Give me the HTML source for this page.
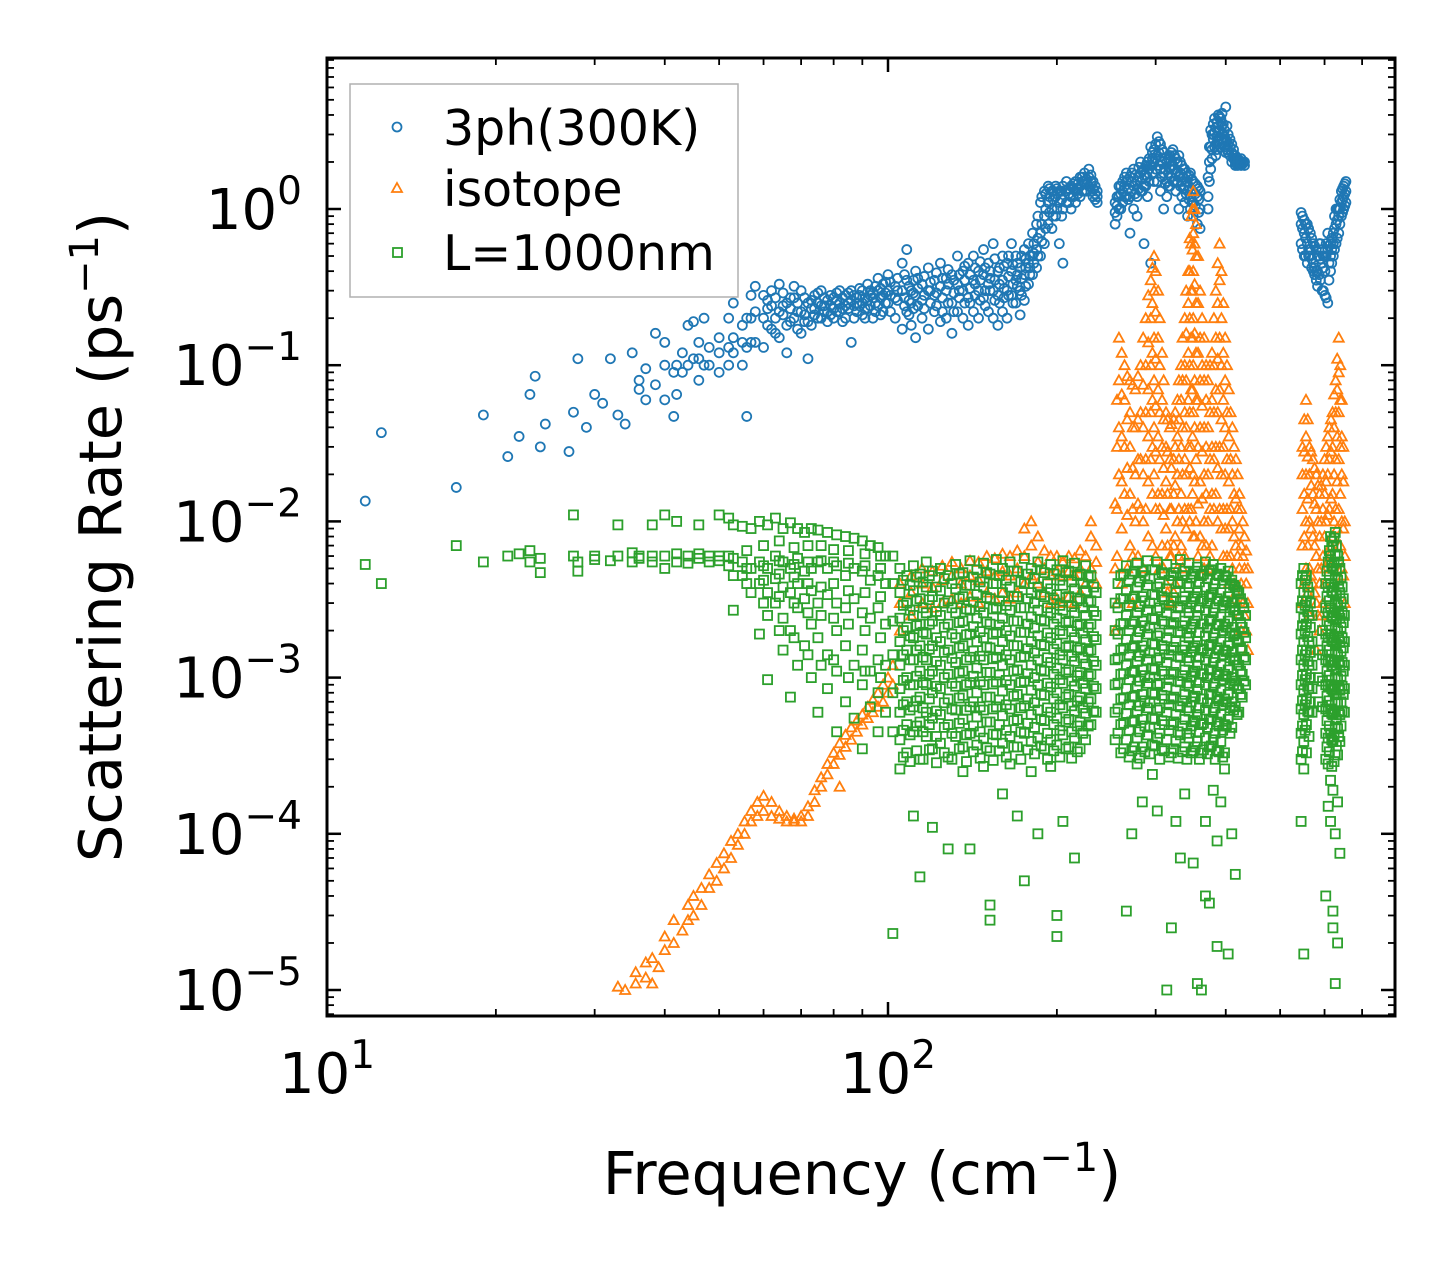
<!DOCTYPE html>
<html><head><meta charset="utf-8"><style>
html,body{margin:0;padding:0;background:#fff;}
svg{display:block;font-family:"DejaVu Sans","Liberation Sans",sans-serif;}
</style></head><body>
<svg id="chart" width="1455" height="1265" viewBox="0 0 1455 1265" xmlns="http://www.w3.org/2000/svg">
<g id="marks"></g>
<g id="axes"></g>
<text x="862" y="1194" font-size="59" text-anchor="middle">Frequency (cm<tspan dy="-23" font-size="40">−1</tspan><tspan dy="23">)</tspan></text>
<text transform="translate(121,537) rotate(-90)" font-size="59" text-anchor="middle">Scattering Rate (ps<tspan dy="-23" font-size="40">−1</tspan><tspan dy="23">)</tspan></text>
<g>
<rect x="350" y="84" width="388" height="213" fill="#fff" stroke="#b0b0b0" stroke-width="1.5"/>
<g><circle cx="397" cy="127" r="4.5" fill="none" stroke="#1f77b4" stroke-width="1.8"/><text x="443" y="145" font-size="49">3ph(300K)</text></g>
<g><polygon points="397,183 402,192 392,192" fill="none" stroke="#ff7f0e" stroke-width="1.8"/><text x="443" y="206" font-size="49">isotope</text></g>
<g><rect x="393" y="248" width="9" height="9" fill="none" stroke="#2ca02c" stroke-width="1.8"/><text x="443" y="270" font-size="49">L=1000nm</text></g>
</g>
</svg>
<script>
// rows: [frequency, rate1, rate2, ...]
const threePh = [
[11.7,0.0135],[12.5,0.037],[17,0.0165],[19,0.048],[21,0.026],[22,0.035],[23,0.065],[23.5,0.085],[24,0.03],[24.5,0.042],[27,0.028],[27.5,0.05],[28,0.11],[29,0.04],[30,0.065],[31,0.057],[32,0.11],[33,0.048],[34,0.042],[35,0.12],[36,0.07,0.08],[37,0.095,0.06],[38.5,0.16,0.075],[40,0.14,0.06,0.1],[41.5,0.047,0.09],[42,0.1,0.065],[43,0.09,0.12],[44,0.18,0.1],[45,0.19,0.11],[46,0.11,0.08,0.14],[47,0.2,0.1],[48,0.1,0.13],[50,0.12,0.15,0.09],[52,0.13,0.2,0.1],[53,0.15,0.12,0.25],[55,0.1,0.18,0.14],[56,0.047,0.2,0.13],[57,0.2,0.14,0.28],[58,0.14,0.22,0.32],
[60,0.2,0.28,0.13],[62,0.24,0.17,0.3],[64,0.22,0.15,0.33],[66,0.25,0.18,0.12],[68,0.27,0.2,0.32],[70,0.22,0.3,0.16],[72,0.25,0.19,0.11],[74,0.28,0.21,0.23],[76,0.24,0.3,0.2],[78,0.26,0.22,0.19],[80,0.27,0.23,0.2],[82,0.25,0.3,0.22],[84,0.28,0.2,0.24],[86,0.26,0.3,0.14],[88,0.27,0.22,0.25],[90,0.3,0.21,0.25],[92,0.26,0.33,0.23],[94,0.29,0.2,0.27],[96,0.3,0.24,0.36],[98,0.28,0.22,0.33],[100,0.3,0.25,0.38],[103,0.32,0.2,0.27],[106,0.3,0.45,0.17],[108,0.35,0.22,0.55],[110,0.3,0.18,0.25],[112,0.28,0.15,0.4],[115,0.33,0.2,0.26],[118,0.3,0.42,0.17],[121,0.35,0.22,0.28],[124,0.32,0.45,0.19],[127,0.3,0.2,0.36],[130,0.38,0.25,0.16],[133,0.33,0.5,0.22],[136,0.3,0.4,0.2],[139,0.45,0.27,0.18],[142,0.35,0.5,0.22],[145,0.3,0.4,0.2],[148,0.38,0.27,0.55],[151,0.33,0.22,0.45],[154,0.3,0.6,0.2],[157,0.4,0.28,0.18],[160,0.35,0.5,0.22],[163,0.3,0.45,0.2],[166,0.4,0.28,0.6],[169,0.35,0.25,0.5],[172,0.42,0.3,0.21],[175,0.38,0.55,0.26],[178,0.45,0.33,0.6],[181,0.5,0.38,0.7],[184,0.55,0.42,0.8],[187,0.7,0.5,1.1],[190,0.9,0.6,1.3],[193,1.1,0.8,1.4],[196,1.0,1.3,0.75],[199,1.2,0.9,1.4],[202,1.1,0.6,1.3],[205,1.0,0.45,1.4],[208,1.3,1.1,1.5],[212,1.2,1.4,1.0],[216,1.3,1.5,1.1],[220,1.4,1.2,1.6],[224,1.3,1.5,1.7],[228,1.4,1.6,1.8],[232,1.2,1.35,1.5],[236,1.3,1.1,1.2],
[254,0.95,1.1,0.8],[258,1.2,1.4,1.0],[262,1.3,1.5,1.1],[266,1.5,1.7,1.2],[270,1.6,1.2,0.7],[274,1.4,1.8,1.0],[278,1.5,1.2,0.9],[282,1.7,2.0,1.3],[286,1.8,1.4,0.6],[290,2.0,1.6,1.2],[294,2.5,1.9,0.45],[298,2.4,2.0,1.5],[302,2.9,2.2,1.5],[306,2.6,1.8,1.3],[310,2.3,1.7,1.0],[314,2.0,1.5,1.2],[318,2.2,1.8,1.4],[322,2.4,1.9,1.5],[326,2.1,1.7,1.3],[330,2.2,1.6,1.0],[334,1.9,1.5,1.2],[338,1.8,1.4,1.1],[342,1.6,1.3,0.9],[346,1.7,1.2,1.0],[350,1.5,1.1,0.9],[356,1.4,1.2,0.8],[360,1.3,1.0,0.75],
[372,1.6,1.2,1.0],[376,2.5,3.2,1.8],[380,3.5,2.8,3.0],[384,3.3,2.6,2.2],[388,4.0,3.1,2.7],[392,3.6,3.8,2.5],[396,3.5,3.0,2.7],[400,4.5,2.8,2.3],[404,2.6,2.3,3.0],[410,2.3,2.0,2.6],[416,2.2,1.9,2.0],[420,2.1,2.0,1.9],[426,2.1,2.0,1.9],[432,2.0,1.9],
[545,0.95,0.8,0.6],[552,0.85,0.7,0.5],[559,0.8,0.6,0.45],[566,0.7,0.5,0.55],[573,0.6,0.45,0.4],[580,0.55,0.4,0.35],[587,0.5,0.38,0.6],[594,0.45,0.3,0.55],[601,0.4,0.28,0.5],[608,0.55,0.25,0.7],[615,0.6,0.4,0.5],[622,0.7,0.5,0.6],[629,0.8,0.6,1.0],[636,0.9,0.7,1.0],[643,1.1,0.9,1.3],[649,1.2,1.0,1.4],[655,1.3,1.1,1.5]
];
const threePhExtra = [
[61,0.23,0.18,0.26],[63,0.2,0.27,0.16],[65,0.24,0.21,0.29],[67,0.19,0.23,0.27],[69,0.25,0.17,0.22],[71,0.27,0.21,0.19],[73,0.23,0.26,0.18],[75,0.25,0.2,0.29],[77,0.22,0.27,0.24],[79,0.24,0.28,0.21],[81,0.22,0.26,0.29],[83,0.27,0.23,0.19],[85,0.23,0.29,0.25],[87,0.28,0.24,0.2],[89,0.24,0.28,0.31],[91,0.27,0.23,0.2],[93,0.3,0.24,0.28],[95,0.25,0.32,0.22],[97,0.27,0.21,0.31],[99,0.25,0.34,0.29],
[101,0.28,0.22,0.34],[104,0.26,0.36,0.3],[107,0.27,0.38,0.24],[109,0.32,0.26,0.21],[111,0.35,0.23,0.29],[113,0.31,0.24,0.36],[116,0.28,0.37,0.23],[119,0.34,0.25,0.3],[122,0.29,0.39,0.24],[125,0.36,0.27,0.22],[128,0.33,0.41,0.25],[131,0.29,0.35,0.22],[134,0.38,0.27,0.3],[137,0.35,0.25,0.43],[140,0.31,0.38,0.25],[143,0.42,0.28,0.33],[146,0.35,0.46,0.26],[149,0.3,0.42,0.24],[152,0.4,0.3,0.36],[155,0.35,0.48,0.26],[158,0.33,0.42,0.25],[161,0.43,0.31,0.27],[164,0.37,0.5,0.28],[167,0.33,0.44,0.25],[170,0.45,0.32,0.38],[173,0.36,0.5,0.28],[176,0.42,0.32,0.48],[179,0.5,0.38,0.42],[182,0.6,0.45,0.52],[185,0.65,0.5,0.9],[188,0.8,0.62,1.2],[191,1.0,0.75,1.25],[194,1.2,0.95,1.35],[197,1.15,1.3,0.9],[200,1.25,1.0,1.35],[204,1.15,1.3,0.9],[210,1.25,1.35,1.1],[214,1.35,1.2,1.45],[218,1.25,1.45,1.35],[222,1.5,1.3,1.6],[226,1.45,1.55,1.3],[230,1.5,1.3,1.65],[234,1.25,1.4,1.15],
[256,1.05,0.9,1.2],[260,1.25,1.0,1.4],[264,1.4,1.2,1.6],[268,1.35,1.55,1.15],[272,1.5,1.3,1.7],[276,1.45,1.65,1.25],[280,1.6,1.35,1.85],[284,1.55,1.75,1.3],[288,1.65,1.9,1.4],[292,1.8,2.1,1.5],[296,2.1,2.3,1.7],[300,2.6,2.1,1.8],[304,2.7,2.3,1.9],[308,2.4,2.0,1.6],[312,2.1,1.8,1.45],[316,2.1,1.7,1.4],[320,2.3,1.9,1.6],[324,2.2,1.8,1.5],[328,2.0,1.75,1.5],[332,2.0,1.7,1.4],[336,1.8,1.6,1.35],[340,1.7,1.5,1.25],[344,1.65,1.4,1.15],[348,1.55,1.3,1.1],[353,1.45,1.25,1.05],[358,1.35,1.15,0.95],
[374,2.0,1.5,2.5],[378,3.0,2.4,2.1],[382,3.1,2.5,3.8],[386,3.6,2.9,2.4],[390,3.9,3.2,2.6],[394,4.1,3.4,2.8],[398,3.2,2.9,2.5],[402,3.4,2.7,2.4],[407,2.5,2.2,2.8],[413,2.2,2.1,2.4],[418,2.1,1.95,2.05],[423,2.05,1.95],[429,2.0,1.95],
[548,0.9,0.75,0.55],[555,0.8,0.65,0.5],[562,0.75,0.55,0.5],[569,0.65,0.48,0.42],[576,0.58,0.42,0.38],[583,0.5,0.4,0.32],[590,0.48,0.35,0.6],[597,0.42,0.3,0.5],[604,0.5,0.27,0.6],[611,0.58,0.35,0.45],[618,0.65,0.45,0.55],[625,0.75,0.55,0.9],[632,0.85,0.65,1.0],[639,1.0,0.8,1.15],[646,1.15,0.95,1.35],[652,1.25,1.05,1.45]
];
const isotope = [
[33,1.05e-5],[34,1e-5],[35.5,1.3e-5,1.1e-5],[37,1.5e-5,1.2e-5],[38,1.6e-5,1.1e-5],[39,1.4e-5],[40,2.2e-5,1.8e-5],[41.5,2.8e-5,2e-5],[43,2.4e-5],[44,3.5e-5,2.8e-5],[45,4e-5,3e-5],[46.5,4.5e-5,3.5e-5],[48,5.5e-5,4.5e-5],[49.5,6.5e-5,5e-5],[51,7.5e-5,6e-5],[52.5,9e-5,7e-5],[54,1e-4,8.5e-5],[55.5,1.2e-4,1e-4],[57,1.4e-4,1.2e-4],[58.5,1.6e-4,1.3e-4],[60,1.75e-4,1.4e-4],[62,1.6e-4,1.3e-4],[64,1.4e-4,1.25e-4],[66,1.3e-4,1.2e-4],[68,1.25e-4,1.2e-4],[70,1.3e-4,1.2e-4],[72,1.5e-4,1.3e-4],[74,1.9e-4,1.6e-4],[76,2.3e-4,2e-4],[78,2.8e-4,2.4e-4],[80,3.3e-4,2.8e-4],[82,3.8e-4,3.2e-4,2e-4],[84,4.3e-4,3.6e-4],[86,4.8e-4,4e-4],[88,5.3e-4,4.5e-4],[90,5.8e-4,5e-4],[92,6.5e-4,5.5e-4],[94,7.2e-4,6e-4],[96,8e-4,6.5e-4],[98,9e-4,7e-4],[100,1e-3,8e-4],[102,1.2e-3,9e-4],
[105,2e-3,3e-3,4e-3],[110,2.5e-3,3.5e-3,4.5e-3],[115,3e-3,4e-3,5e-3],[120,2.8e-3,3.8e-3,4.8e-3],[125,3e-3,4.2e-3,5.2e-3],[130,3.2e-3,4.5e-3,5.5e-3],[135,3e-3,4e-3,5e-3],[140,3.3e-3,4.5e-3,5.6e-3],[145,3e-3,4.2e-3,5.5e-3],[150,3.5e-3,4.8e-3,6e-3],[155,3.2e-3,4.5e-3,5.8e-3],[160,3.5e-3,4.8e-3,6.2e-3],[165,3.2e-3,4.5e-3,6e-3],[170,3.5e-3,5e-3,6.5e-3],[175,4e-3,6e-3,9e-3],[180,4.5e-3,7e-3,0.01],[185,4e-3,5.5e-3,8e-3],[190,3.5e-3,5e-3,6.5e-3],[195,3e-3,4.5e-3,6e-3],[200,3.2e-3,4.8e-3,6e-3],[205,3e-3,4.5e-3,5.5e-3],[210,3.3e-3,4.8e-3,6e-3],[215,3e-3,4.5e-3,5.8e-3],[220,3.5e-3,5e-3,6.5e-3],[225,4e-3,6e-3],[230,5e-3,8e-3,0.01],[235,4e-3,5.5e-3,7e-3],
[254,0.013,5e-3,2e-3],[258,0.15,0.08,0.04,0.02],[264,0.1,0.06,0.03,0.015],[270,0.08,0.05,0.03,0.015,7e-3],[276,0.07,0.04,0.02,0.01],[282,0.1,0.05,0.025,0.012],[288,0.2,0.1,0.05,0.025,0.012],[294,0.35,0.2,0.1,0.05,0.025],[298,0.5,0.3,0.15,0.08,0.04,0.02],[303,0.3,0.15,0.07,0.035,0.015],[308,0.12,0.06,0.03,0.015,7e-3],[313,0.05,0.03,0.018,9e-3,4e-3],[318,0.04,0.025,0.012,6e-3,3e-3],[323,0.045,0.025,0.015,7e-3,3.5e-3],[328,0.06,0.035,0.02,0.01,5e-3],[333,0.1,0.06,0.03,0.015,7e-3],[338,0.2,0.1,0.05,0.025,0.012,6e-3],[343,0.4,0.25,0.12,0.06,0.03,0.012],[347,0.9,0.6,0.3,0.15,0.07,0.03,0.012],[350,1.3,0.7,0.4,0.2,0.1,0.05,0.02,8e-3],[354,0.8,0.5,0.25,0.12,0.06,0.025,0.01],[360,0.3,0.15,0.08,0.04,0.018,8e-3],[366,0.15,0.08,0.04,0.02,0.01,5e-3],[372,0.08,0.04,0.02,0.01,5e-3],[378,0.12,0.06,0.03,0.015,7e-3],[384,0.3,0.15,0.07,0.03,0.015],[390,0.6,0.35,0.15,0.07,0.03,0.012],[396,0.25,0.12,0.06,0.03,0.012,6e-3],[402,0.1,0.05,0.025,0.012,6e-3],[408,0.05,0.025,0.012,6e-3,3e-3],[414,0.03,0.015,8e-3,4e-3],[420,0.02,0.012,6e-3,3e-3],[426,0.012,7e-3,4e-3,2e-3],[432,8e-3,5e-3,2.5e-3],[438,5e-3,3e-3,1.5e-3],
[548,0.03,0.02,0.012,7e-3,3e-3],[556,0.06,0.035,0.02,0.01,5e-3],[564,0.03,0.02,0.01,5e-3,2.5e-3],[572,0.025,0.015,8e-3,4e-3],[580,0.02,0.012,6e-3,3e-3,1.5e-3],[588,0.015,8e-3,4e-3,2e-3],[596,0.02,0.012,6e-3,3e-3],[604,0.03,0.018,0.01,5e-3],[612,0.04,0.025,0.012,6e-3],[620,0.05,0.03,0.015,8e-3],[628,0.08,0.05,0.025,0.012],[636,0.15,0.09,0.05,0.025,0.012],[644,0.06,0.035,0.02,0.01,5e-3],[652,0.01,6e-3,3e-3]
];
const isotopeExtra = [
[256,0.06,0.03,0.012,6e-3,3e-3],[261,0.12,0.065,0.035,0.018,9e-3,4e-3],[267,0.085,0.045,0.022,0.011,5e-3],[273,0.075,0.04,0.022,0.012,6e-3,3e-3],[279,0.085,0.045,0.025,0.013,6e-3],[285,0.15,0.075,0.04,0.02,0.01,5e-3],[291,0.28,0.14,0.07,0.035,0.018,8e-3],[296,0.42,0.25,0.12,0.06,0.03,0.015,7e-3],[300,0.4,0.22,0.11,0.055,0.028,0.012,6e-3],[305,0.2,0.1,0.05,0.025,0.012,5e-3],[310,0.08,0.045,0.022,0.011,5e-3],[315,0.045,0.028,0.015,7e-3,3.5e-3],[320,0.042,0.022,0.012,6e-3,3e-3],[325,0.05,0.03,0.017,8e-3,4e-3],[330,0.08,0.045,0.025,0.012,6e-3],[335,0.15,0.08,0.04,0.02,0.01,5e-3],[340,0.3,0.16,0.08,0.04,0.02,9e-3],[345,0.65,0.4,0.2,0.1,0.05,0.022,0.01],[349,1.0,0.55,0.3,0.15,0.07,0.035,0.015],[352,1.0,0.6,0.33,0.16,0.08,0.04,0.018,8e-3],[357,0.5,0.25,0.12,0.06,0.03,0.013,6e-3],[363,0.2,0.1,0.055,0.028,0.014,7e-3],[369,0.1,0.06,0.03,0.015,7e-3],[375,0.1,0.05,0.025,0.012,6e-3],[381,0.2,0.1,0.05,0.025,0.012],[387,0.45,0.25,0.11,0.05,0.022,0.01],[393,0.4,0.2,0.1,0.045,0.02,9e-3],[399,0.15,0.08,0.04,0.02,9e-3],[405,0.07,0.035,0.018,9e-3,4e-3],[411,0.04,0.02,0.01,5e-3],[417,0.025,0.014,7e-3,3.5e-3],[423,0.015,9e-3,5e-3,2.5e-3],[429,0.01,6e-3,3e-3],[435,6.5e-3,4e-3,2e-3],
[552,0.045,0.028,0.015,8e-3,4e-3],[560,0.045,0.026,0.014,7e-3,3.5e-3],[568,0.028,0.017,9e-3,4.5e-3],[576,0.022,0.013,7e-3,3.5e-3],[584,0.017,0.01,5e-3,2.5e-3],[592,0.017,0.01,5e-3,2.5e-3],[600,0.025,0.015,8e-3,4e-3],[608,0.035,0.02,0.011,5.5e-3],[616,0.045,0.028,0.014,7e-3],[624,0.065,0.04,0.02,0.01],[632,0.11,0.07,0.035,0.018,9e-3],[640,0.1,0.06,0.03,0.015,7e-3],[648,0.03,0.018,9e-3,4.5e-3]
];
const boundary = [
[11.7,5.3e-3],[12.5,4e-3],[17,7e-3],[19,5.5e-3],[21,6e-3],[22,6.2e-3],[23,5.5e-3,6.5e-3],[24,4.7e-3,5.8e-3],[27.5,0.011,6e-3],[28,4.8e-3,5.5e-3],[30,6e-3,5.7e-3],[32,5.6e-3],[33,0.0095,6e-3],[35,6.3e-3,5.5e-3],[36,5.8e-3,6e-3],[38,0.0095,5.5e-3,6e-3],[40,6e-3,5e-3,0.011],[42,5.5e-3,6.2e-3,0.01],[44,6e-3,5.4e-3],[46,5.8e-3,6.2e-3,0.0095],[48,6e-3,5.5e-3],[50,0.011,6e-3,5.6e-3],[52,0.0105,6e-3,5.2e-3],[53,0.0095,5.8e-3,4.5e-3,2.7e-3],[55,0.0093,5.5e-3,4.5e-3],[57,0.009,5e-3,3.5e-3],[59,0.01,5.5e-3,4e-3,1.9e-3],[61,0.0095,5e-3,3.5e-3,2.5e-3,9.7e-4],[63,0.0105,6e-3,4.3e-3,3e-3],[65,0.009,5.5e-3,3.8e-3,2.4e-3,1.5e-3],[67,0.0098,5e-3,3.5e-3,2e-3,7.5e-4],[69,0.009,5.8e-3,4e-3,2.8e-3,1.2e-3],[71,0.0085,4.8e-3,3.2e-3,1.6e-3],[73,0.009,5e-3,3.6e-3,2.2e-3,1e-3],[75,0.0088,5.5e-3,3e-3,1.8e-3,6e-4],[78,0.0085,5e-3,3.4e-3,1.4e-3,8.5e-4],[81,0.0082,5.2e-3,3e-3,2e-3,1.1e-3,4.5e-4],[84,0.008,4.5e-3,2.8e-3,1.6e-3,7e-4],[87,0.0078,5e-3,3.2e-3,1.2e-3,5.5e-4],[90,0.0075,4.8e-3,2.6e-3,1.5e-3,9e-4,3.5e-4],[93,0.007,4.2e-3,2.4e-3,1.1e-3,6.5e-4],[96,0.0068,4.5e-3,2.8e-3,1.3e-3,8e-4,4.5e-4],[99,0.006,4e-3,2.2e-3,1.2e-3,6e-4],[102,0.006,4e-3,2.3e-3,1.4e-3,8e-4,4.5e-4,2.3e-5],
[105,5e-3,3.5e-3,2.4e-3,1.7e-3,1.2e-3,8.5e-4,6e-4,4e-4,2.6e-4],[108,4.5e-3,3e-3,2.1e-3,1.5e-3,1e-3,7e-4,5e-4,3.3e-4],[111,5.2e-3,3.6e-3,2.5e-3,1.8e-3,1.3e-3,9e-4,6.5e-4,4.5e-4,1.3e-4],[114,4.6e-3,3.2e-3,2.2e-3,1.6e-3,1.1e-3,7.5e-4,5.2e-4,3e-4,5.3e-5],[117,5.5e-3,3.8e-3,2.6e-3,1.9e-3,1.3e-3,9e-4,6e-4,4.2e-4],[120,4.8e-3,3.3e-3,2.3e-3,1.6e-3,1.1e-3,8e-4,5.5e-4,3.5e-4,1.1e-4],[124,5e-3,3.6e-3,2.5e-3,1.7e-3,1.2e-3,8.5e-4,5.8e-4,3.8e-4],[128,4.5e-3,3.1e-3,2.2e-3,1.5e-3,1.05e-3,7.3e-4,5e-4,3.1e-4,8e-5],[132,5.3e-3,3.7e-3,2.6e-3,1.8e-3,1.25e-3,8.8e-4,6.2e-4,4.2e-4],[136,4.7e-3,3.3e-3,2.3e-3,1.6e-3,1.1e-3,7.7e-4,5.4e-4,3.6e-4,2.5e-4],[140,5.6e-3,3.9e-3,2.7e-3,1.9e-3,1.35e-3,9.3e-4,6.5e-4,4.4e-4,8e-5],[144,4.9e-3,3.4e-3,2.4e-3,1.7e-3,1.15e-3,8e-4,5.6e-4,3.7e-4],[148,5.4e-3,3.8e-3,2.6e-3,1.8e-3,1.3e-3,9e-4,6.2e-4,4.1e-4,2.7e-4],[152,4.6e-3,3.2e-3,2.2e-3,1.55e-3,1.08e-3,7.5e-4,5.2e-4,3.4e-4,3.5e-5,2.8e-5],[156,5.7e-3,4e-3,2.8e-3,1.95e-3,1.35e-3,9.4e-4,6.5e-4,4.3e-4],[160,5e-3,3.5e-3,2.4e-3,1.7e-3,1.2e-3,8.2e-4,5.7e-4,3.8e-4,1.8e-4],[165,5.5e-3,3.8e-3,2.7e-3,1.85e-3,1.3e-3,9e-4,6.3e-4,4.2e-4,2.8e-4],[170,4.8e-3,3.3e-3,2.3e-3,1.6e-3,1.12e-3,7.8e-4,5.4e-4,3.6e-4,1.3e-4],[175,5.8e-3,4e-3,2.8e-3,1.95e-3,1.37e-3,9.5e-4,6.6e-4,4.4e-4,5e-5],[180,5e-3,3.5e-3,2.45e-3,1.7e-3,1.2e-3,8.3e-4,5.8e-4,3.9e-4,2.5e-4],[185,5.5e-3,3.8e-3,2.7e-3,1.85e-3,1.3e-3,9e-4,6.2e-4,4.1e-4,1e-4],[190,4.7e-3,3.3e-3,2.3e-3,1.6e-3,1.1e-3,7.7e-4,5.3e-4,3.5e-4],[195,5.3e-3,3.7e-3,2.6e-3,1.8e-3,1.25e-3,8.7e-4,6e-4,4e-4,2.7e-4],[200,4.9e-3,3.4e-3,2.4e-3,1.65e-3,1.15e-3,8e-4,5.5e-4,3.7e-4,3e-5,2.2e-5],[205,5.6e-3,3.9e-3,2.7e-3,1.9e-3,1.3e-3,9.2e-4,6.4e-4,4.3e-4,1.2e-4],[210,4.8e-3,3.3e-3,2.3e-3,1.6e-3,1.12e-3,7.8e-4,5.4e-4,3.6e-4],[215,5.4e-3,3.7e-3,2.6e-3,1.8e-3,1.27e-3,8.8e-4,6.1e-4,4.1e-4,7e-5],[220,4.6e-3,3.2e-3,2.2e-3,1.55e-3,1.08e-3,7.5e-4,5.2e-4,3.5e-4],[225,5.2e-3,3.6e-3,2.5e-3,1.75e-3,1.22e-3,8.5e-4,5.9e-4,4e-4],[230,4.5e-3,3.1e-3,2.2e-3,1.5e-3,1.05e-3,7.3e-4,5e-4],[235,3.5e-3,2.5e-3,1.75e-3,1.2e-3,8.5e-4,6e-4],
[254,3e-3,2e-3,1.3e-3,9e-4,6e-4,4e-4],[260,4.5e-3,3.2e-3,2.2e-3,1.5e-3,1.05e-3,7.3e-4,5e-4,3.3e-4],[266,5.2e-3,3.6e-3,2.5e-3,1.75e-3,1.2e-3,8.5e-4,5.9e-4,4e-4,3.2e-5],[272,4.6e-3,3.2e-3,2.2e-3,1.55e-3,1.08e-3,7.5e-4,5.2e-4,3.4e-4,1e-4],[278,5.4e-3,3.8e-3,2.6e-3,1.8e-3,1.27e-3,8.8e-4,6.1e-4,4.1e-4,2.8e-4],[284,4.8e-3,3.3e-3,2.3e-3,1.6e-3,1.12e-3,7.8e-4,5.4e-4,3.6e-4,1.6e-4],[290,5.6e-3,3.9e-3,2.7e-3,1.9e-3,1.3e-3,9.2e-4,6.4e-4,4.3e-4],[296,4.9e-3,3.4e-3,2.4e-3,1.65e-3,1.15e-3,8e-4,5.5e-4,3.7e-4,2.4e-4],[302,5.5e-3,3.8e-3,2.7e-3,1.85e-3,1.3e-3,9e-4,6.2e-4,4.1e-4,1.4e-4],[308,4.7e-3,3.3e-3,2.3e-3,1.6e-3,1.1e-3,7.7e-4,5.3e-4,3.5e-4],[314,5.3e-3,3.7e-3,2.6e-3,1.8e-3,1.25e-3,8.7e-4,6e-4,4e-4,1e-5],[320,4.5e-3,3.1e-3,2.2e-3,1.5e-3,1.05e-3,7.3e-4,5e-4,3.3e-4,2.5e-5],[326,5e-3,3.5e-3,2.45e-3,1.7e-3,1.2e-3,8.3e-4,5.8e-4,3.9e-4,1.2e-4],[332,5.7e-3,4e-3,2.8e-3,1.95e-3,1.35e-3,9.4e-4,6.5e-4,4.3e-4,7e-5],[338,4.8e-3,3.3e-3,2.3e-3,1.6e-3,1.12e-3,7.8e-4,5.4e-4,3.6e-4,1.8e-4],[344,5.4e-3,3.8e-3,2.6e-3,1.8e-3,1.27e-3,8.8e-4,6.1e-4,4.1e-4],[350,4.6e-3,3.2e-3,2.2e-3,1.55e-3,1.08e-3,7.5e-4,5.2e-4,3.4e-4,6.5e-5],[356,5.1e-3,3.5e-3,2.5e-3,1.7e-3,1.2e-3,8.4e-4,5.8e-4,3.9e-4,1.1e-5],[362,4.5e-3,3.1e-3,2.2e-3,1.5e-3,1.05e-3,7.3e-4,5e-4,3.3e-4,1e-5],[368,5.5e-3,3.8e-3,2.7e-3,1.85e-3,1.3e-3,9e-4,6.2e-4,4.1e-4,1.2e-4,4e-5],[374,4.8e-3,3.3e-3,2.3e-3,1.6e-3,1.12e-3,7.8e-4,5.4e-4,3.6e-4,3.6e-5],[380,5.3e-3,3.7e-3,2.6e-3,1.8e-3,1.25e-3,8.7e-4,6e-4,4e-4,1.9e-4],[386,4.6e-3,3.2e-3,2.2e-3,1.55e-3,1.08e-3,7.5e-4,5.2e-4,3.4e-4,9e-5,1.9e-5],[392,5e-3,3.5e-3,2.45e-3,1.7e-3,1.2e-3,8.3e-4,5.8e-4,3.9e-4,1.6e-4],[398,4.5e-3,3.1e-3,2.2e-3,1.5e-3,1.05e-3,7.3e-4,5e-4,3.3e-4,2.6e-4],[404,4.8e-3,3.3e-3,2.3e-3,1.6e-3,1.12e-3,7.8e-4,5.4e-4,1.7e-5],[410,4.2e-3,3e-3,2.1e-3,1.45e-3,1e-3,7e-4,4.8e-4,1e-4],[416,3.8e-3,2.7e-3,1.9e-3,1.3e-3,9.5e-4,6.5e-4,5.5e-5],[422,3.5e-3,2.5e-3,1.7e-3,1.2e-3,8.5e-4,6e-4],[428,3e-3,2.1e-3,1.5e-3,1.05e-3,7.5e-4],[434,2.5e-3,1.8e-3,1.3e-3,9e-4],
[545,4e-3,2.8e-3,1.9e-3,1.3e-3,9e-4,6.3e-4,4.4e-4,3e-4,1.2e-4],[551,5e-3,3.5e-3,2.4e-3,1.7e-3,1.2e-3,8.3e-4,5.8e-4,3.9e-4,2.6e-4,1.7e-5],[557,4.5e-3,3.1e-3,2.2e-3,1.5e-3,1.05e-3,7.3e-4,5e-4,3.3e-4],[563,3.5e-3,2.5e-3,1.7e-3,1.2e-3,8.5e-4,6e-4,4.2e-4],[570,2.5e-3,1.7e-3,1.2e-3,8.5e-4,6e-4],[585,1.5e-3,1e-3,7e-4],[595,2e-3,1.4e-3,9.5e-4,6.5e-4],[603,4e-3,2.8e-3,1.9e-3,1.3e-3,9e-4,6.3e-4,4.4e-4,3e-4,4e-5],[609,5.5e-3,3.8e-3,2.6e-3,1.8e-3,1.27e-3,8.8e-4,6.1e-4,4.1e-4,2.8e-4,1.5e-4],[615,8e-3,6e-3,4e-3,2.8e-3,1.9e-3,1.3e-3,9e-4,6.3e-4,4.4e-4,2.2e-4,1.2e-4],[621,7e-3,5e-3,3.5e-3,2.4e-3,1.7e-3,1.2e-3,8.3e-4,5.8e-4,3.9e-4,1.9e-4,3.2e-5,2.5e-5],[627,8.5e-3,6e-3,4.3e-3,3e-3,2.1e-3,1.45e-3,1e-3,7e-4,4.8e-4,3.2e-4,1e-4,1.1e-5],[633,6e-3,4.2e-3,2.9e-3,2e-3,1.4e-3,9.8e-4,6.8e-4,4.7e-4,3.2e-4,1.6e-4,2e-5],[639,5e-3,3.5e-3,2.4e-3,1.7e-3,1.2e-3,8.3e-4,5.8e-4,3.9e-4,7.5e-5],[645,3.8e-3,2.6e-3,1.8e-3,1.25e-3,8.8e-4,6.1e-4],[651,2.5e-3,1.7e-3,1.2e-3,8.5e-4,6e-4]
];
const boundaryExtra = [
[56,6.5e-3,5e-3,4e-3],[60,7e-3,5.2e-3,4.2e-3,3e-3],[64,7.5e-3,5.6e-3,4.6e-3,3.3e-3,2e-3],[68,6.8e-3,5.3e-3,4.4e-3,3e-3,1.8e-3],[72,7e-3,5.5e-3,4e-3,2.6e-3,1.4e-3],[76,7e-3,5.6e-3,3.8e-3,2.5e-3,1.2e-3],[80,6.6e-3,5.5e-3,4e-3,2.4e-3,1.3e-3],[85,6.5e-3,5.4e-3,3.6e-3,2.2e-3,1e-3],[91,6.2e-3,5.2e-3,3.5e-3,2e-3,1.1e-3],[97,6e-3,5e-3,3.3e-3,1.8e-3,1e-3],
[106.5,4.2e-3,2.9e-3,2e-3,1.4e-3,9.6e-4,6.7e-4,4.6e-4,3.1e-4],[109.5,3.9e-3,2.7e-3,1.85e-3,1.3e-3,9e-4,6.2e-4,4.3e-4,2.9e-4],[112.5,4.4e-3,3.1e-3,2.15e-3,1.5e-3,1.02e-3,7.1e-4,4.9e-4,3.4e-4],[115.5,4.1e-3,2.8e-3,1.95e-3,1.35e-3,9.3e-4,6.4e-4,4.5e-4,3e-4],[118.5,4.5e-3,3.15e-3,2.2e-3,1.52e-3,1.05e-3,7.3e-4,5e-4,3.45e-4],[122,3.8e-3,2.65e-3,1.8e-3,1.27e-3,8.8e-4,6.1e-4,4.2e-4,2.85e-4],[126,4.3e-3,3e-3,2.1e-3,1.45e-3,1e-3,6.9e-4,4.8e-4,3.3e-4],[130,4e-3,2.8e-3,1.9e-3,1.33e-3,9.2e-4,6.3e-4,4.4e-4,3e-4],[134,4.6e-3,3.2e-3,2.25e-3,1.55e-3,1.07e-3,7.4e-4,5.1e-4,3.5e-4],[138,3.9e-3,2.75e-3,1.88e-3,1.3e-3,9e-4,6.2e-4,4.3e-4,2.9e-4],[142,4.4e-3,3.05e-3,2.12e-3,1.48e-3,1.02e-3,7e-4,4.9e-4,3.35e-4],[146,4.1e-3,2.85e-3,1.97e-3,1.37e-3,9.4e-4,6.5e-4,4.5e-4,3.05e-4],[150,4.7e-3,3.25e-3,2.27e-3,1.57e-3,1.08e-3,7.5e-4,5.2e-4,3.55e-4],[154,4e-3,2.75e-3,1.9e-3,1.32e-3,9.1e-4,6.3e-4,4.35e-4,2.95e-4],[158,4.5e-3,3.1e-3,2.17e-3,1.5e-3,1.04e-3,7.2e-4,5e-4,3.4e-4],[162.5,4.2e-3,2.9e-3,2e-3,1.4e-3,9.6e-4,6.7e-4,4.6e-4,3.1e-4],[167.5,4.8e-3,3.3e-3,2.3e-3,1.6e-3,1.1e-3,7.6e-4,5.3e-4,3.6e-4],[172.5,4.1e-3,2.8e-3,1.95e-3,1.35e-3,9.3e-4,6.4e-4,4.5e-4,3e-4],[177.5,4.6e-3,3.2e-3,2.2e-3,1.53e-3,1.06e-3,7.3e-4,5.1e-4,3.45e-4],[182.5,4.3e-3,3e-3,2.08e-3,1.44e-3,1e-3,6.9e-4,4.8e-4,3.25e-4],[187.5,4.9e-3,3.4e-3,2.35e-3,1.63e-3,1.12e-3,7.8e-4,5.4e-4,3.65e-4],[192.5,4e-3,2.8e-3,1.93e-3,1.34e-3,9.2e-4,6.4e-4,4.4e-4,3e-4],[197.5,4.6e-3,3.15e-3,2.2e-3,1.52e-3,1.05e-3,7.3e-4,5e-4,3.4e-4],[202.5,4.2e-3,2.9e-3,2e-3,1.4e-3,9.7e-4,6.7e-4,4.6e-4,3.1e-4],[207.5,4.7e-3,3.25e-3,2.25e-3,1.56e-3,1.08e-3,7.5e-4,5.2e-4,3.5e-4],[212.5,4.1e-3,2.85e-3,1.97e-3,1.37e-3,9.5e-4,6.6e-4,4.5e-4,3.05e-4],[217.5,4.5e-3,3.1e-3,2.15e-3,1.5e-3,1.03e-3,7.1e-4,4.9e-4,3.35e-4],[222.5,4e-3,2.8e-3,1.93e-3,1.34e-3,9.2e-4,6.4e-4,4.4e-4],[227.5,4.4e-3,3.05e-3,2.1e-3,1.47e-3,1.02e-3,7e-4,4.9e-4],[232.5,3.8e-3,2.65e-3,1.83e-3,1.27e-3,8.8e-4,6.1e-4],
[257,4e-3,2.8e-3,1.9e-3,1.33e-3,9.2e-4,6.3e-4,4.4e-4],[263,4.6e-3,3.2e-3,2.22e-3,1.54e-3,1.06e-3,7.4e-4,5.1e-4,3.5e-4],[269,4.2e-3,2.9e-3,2e-3,1.4e-3,9.7e-4,6.7e-4,4.6e-4,3.1e-4],[275,4.8e-3,3.3e-3,2.3e-3,1.6e-3,1.1e-3,7.6e-4,5.3e-4,3.6e-4],[281,4.1e-3,2.85e-3,1.97e-3,1.37e-3,9.5e-4,6.6e-4,4.5e-4,3.05e-4],[287,4.5e-3,3.1e-3,2.15e-3,1.5e-3,1.03e-3,7.1e-4,4.9e-4,3.35e-4],[293,4.3e-3,3e-3,2.08e-3,1.44e-3,1e-3,6.9e-4,4.8e-4,3.25e-4],[299,4.9e-3,3.4e-3,2.35e-3,1.63e-3,1.12e-3,7.8e-4,5.4e-4,3.65e-4],[305,4e-3,2.8e-3,1.93e-3,1.34e-3,9.2e-4,6.4e-4,4.4e-4,3e-4],[311,4.6e-3,3.15e-3,2.2e-3,1.52e-3,1.05e-3,7.3e-4,5e-4,3.4e-4],[317,4.2e-3,2.9e-3,2e-3,1.4e-3,9.7e-4,6.7e-4,4.6e-4,3.1e-4],[323,4.7e-3,3.25e-3,2.25e-3,1.56e-3,1.08e-3,7.5e-4,5.2e-4,3.5e-4],[329,4.1e-3,2.85e-3,1.97e-3,1.37e-3,9.5e-4,6.6e-4,4.5e-4,3.05e-4],[335,4.5e-3,3.1e-3,2.15e-3,1.5e-3,1.03e-3,7.1e-4,4.9e-4,3.35e-4],[341,4e-3,2.8e-3,1.93e-3,1.34e-3,9.2e-4,6.4e-4,4.4e-4,3e-4],[347,4.4e-3,3.05e-3,2.1e-3,1.47e-3,1.02e-3,7e-4,4.9e-4,3.3e-4],[353,4.8e-3,3.3e-3,2.3e-3,1.6e-3,1.1e-3,7.6e-4,5.3e-4,3.6e-4],[359,4.1e-3,2.8e-3,1.95e-3,1.35e-3,9.3e-4,6.4e-4,4.5e-4,3e-4],[365,4.6e-3,3.2e-3,2.2e-3,1.53e-3,1.06e-3,7.3e-4,5.1e-4,3.45e-4],[371,4.3e-3,3e-3,2.08e-3,1.44e-3,1e-3,6.9e-4,4.8e-4,3.25e-4],[377,4.9e-3,3.4e-3,2.35e-3,1.63e-3,1.12e-3,7.8e-4,5.4e-4,3.65e-4],[383,4e-3,2.8e-3,1.93e-3,1.34e-3,9.2e-4,6.4e-4,4.4e-4,3e-4],[389,4.5e-3,3.1e-3,2.15e-3,1.5e-3,1.03e-3,7.1e-4,4.9e-4,3.35e-4],[395,4.2e-3,2.9e-3,2e-3,1.4e-3,9.7e-4,6.7e-4,4.6e-4,3.1e-4],[401,4.4e-3,3.05e-3,2.1e-3,1.47e-3,1.02e-3,7e-4,4.9e-4],[407,4e-3,2.8e-3,1.93e-3,1.34e-3,9.2e-4,6.4e-4,4.4e-4],[413,3.9e-3,2.7e-3,1.85e-3,1.3e-3,9e-4,6.2e-4],[419,3.6e-3,2.5e-3,1.75e-3,1.2e-3,8.5e-4,5.8e-4],[425,3.2e-3,2.25e-3,1.55e-3,1.1e-3,7.8e-4],[431,2.8e-3,1.95e-3,1.35e-3,9.5e-4],
[548,4.5e-3,3.1e-3,2.15e-3,1.5e-3,1.03e-3,7.1e-4,4.9e-4,3.35e-4],[554,4.2e-3,2.9e-3,2e-3,1.4e-3,9.7e-4,6.7e-4,4.6e-4],[560,3.8e-3,2.65e-3,1.83e-3,1.27e-3,8.8e-4,6.1e-4],[566,3e-3,2.1e-3,1.45e-3,1e-3,7e-4],[606,4.8e-3,3.3e-3,2.3e-3,1.6e-3,1.1e-3,7.6e-4,5.3e-4,3.6e-4],[612,6.5e-3,4.5e-3,3.1e-3,2.15e-3,1.5e-3,1.03e-3,7.1e-4,4.9e-4,3.35e-4],[618,7.5e-3,5.2e-3,3.6e-3,2.5e-3,1.75e-3,1.2e-3,8.5e-4,5.9e-4,4e-4,2.7e-4],[624,7.8e-3,5.4e-3,3.8e-3,2.6e-3,1.8e-3,1.25e-3,8.7e-4,6e-4,4.2e-4,2.9e-4],[630,7e-3,4.9e-3,3.4e-3,2.35e-3,1.63e-3,1.12e-3,7.8e-4,5.4e-4,3.65e-4],[636,5.5e-3,3.8e-3,2.65e-3,1.83e-3,1.27e-3,8.8e-4,6.1e-4,4.2e-4],[642,4.4e-3,3.05e-3,2.1e-3,1.47e-3,1.02e-3,7e-4,4.9e-4],[648,3.2e-3,2.25e-3,1.55e-3,1.1e-3,7.8e-4]
];
const xTickLabels = [1, 2];
const yTickLabels = [0, -1, -2, -3, -4, -5];

// axis geometry
const L = 327, R = 1395, T = 58, B = 1016;
const XDEC = 561, X0LOG = 1;
const YDEC = 156.2, Y0 = 209;
function X(f){ return L + (Math.log10(f) - X0LOG) * XDEC; }
function Y(v){ return Y0 - Math.log10(v) * YDEC; }

const NS = "http://www.w3.org/2000/svg";
const marks = document.getElementById('marks');
const axes = document.getElementById('axes');
function mk(tag, attrs, parent){
  const e = document.createElementNS(NS, tag);
  for (const k in attrs) e.setAttribute(k, attrs[k]);
  parent.appendChild(e); return e;
}

const gBlue = mk('g', {fill:'none', stroke:'#1f77b4', 'stroke-width':'1.8'}, marks);


threePhExtra.concat(threePh).forEach(r => { for (let i = 1; i < r.length; i++) {
  const c = mk('circle', {cx:X(r[0]), cy:Y(r[i]), r:4.5}, gBlue);
  
  
}});

const gOr = mk('g', {fill:'none', stroke:'#ff7f0e', 'stroke-width':'1.8'}, marks);


isotopeExtra.concat(isotope).forEach(r => { for (let i = 1; i < r.length; i++) {
  const x = X(r[0]), y = Y(r[i]);
  const p = mk('polygon', {points:`${x},${y-5} ${x+5},${y+4} ${x-5},${y+4}`}, gOr);
  
  
}});

const gGr = mk('g', {fill:'none', stroke:'#2ca02c', 'stroke-width':'1.8'}, marks);


boundaryExtra.concat(boundary).forEach(r => { for (let i = 1; i < r.length; i++) {
  const s = mk('rect', {x:X(r[0])-4.5, y:Y(r[i])-4.5, width:9, height:9}, gGr);
  
  
}});

// frame
const frame = mk('rect', {x:L, y:T, width:R-L, height:B-T, fill:'none', stroke:'#000', 'stroke-width':'3'}, axes);



// x ticks
for (let d = 1; d <= 2; d++) for (let m = 1; m <= 9; m++) {
  const f = m * Math.pow(10, d), x = X(f);
  if (x < L - 1 || x > R + 1) continue;
  const len = m === 1 ? 14 : 7;
  mk('line', {x1:x, y1:B, x2:x, y2:B-len, stroke:'#000', 'stroke-width':m===1?2.5:1.8}, axes);
  mk('line', {x1:x, y1:T, x2:x, y2:T+len, stroke:'#000', 'stroke-width':m===1?2.5:1.8}, axes);
}
xTickLabels.forEach(p => {
  const t = mk('text', {x:X(Math.pow(10,p)), y:1093, 'font-size':'56', 'text-anchor':'middle'}, axes);
  
  
  t.innerHTML = `10<tspan dy="-25" font-size="39">${p}</tspan>`;
});
// y ticks
for (let d = -6; d <= 0; d++) for (let m = 1; m <= 9; m++) {
  const v = m * Math.pow(10, d), y = Y(v);
  if (y < T - 1 || y > B + 1) continue;
  const len = m === 1 ? 14 : 7;
  mk('line', {x1:L, y1:y, x2:L+len, y2:y, stroke:'#000', 'stroke-width':m===1?2.5:1.8}, axes);
  mk('line', {x1:R, y1:y, x2:R-len, y2:y, stroke:'#000', 'stroke-width':m===1?2.5:1.8}, axes);
}
yTickLabels.forEach(p => {
  const t = mk('text', {x:302, y:Y(Math.pow(10,p))+20, 'font-size':'56', 'text-anchor':'end'}, axes);
  
  
  t.innerHTML = `10<tspan dy="-25" font-size="39">${p < 0 ? '−' + (-p) : p}</tspan>`;
});
</script>
</body></html>
